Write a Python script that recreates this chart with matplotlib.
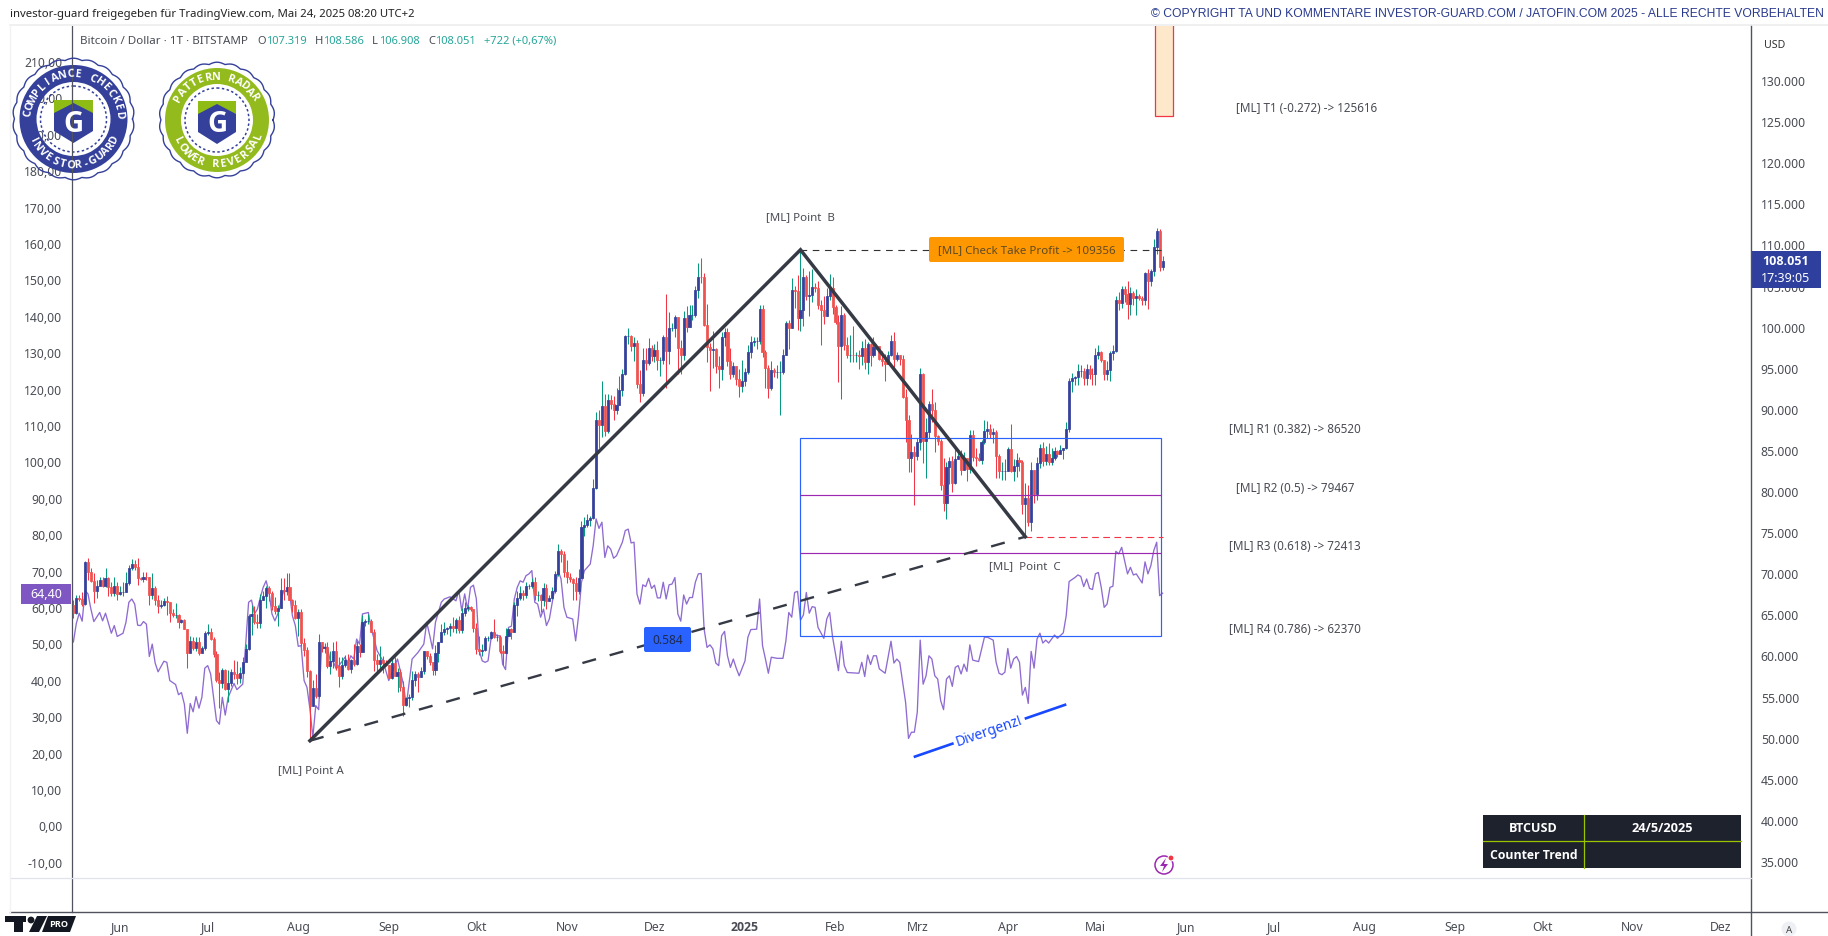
import numpy as np
import pandas as pd
import matplotlib
matplotlib.use("Agg")
import matplotlib.pyplot as plt
from matplotlib.patches import Rectangle, Circle, Wedge, Polygon, FancyBboxPatch

plt.rcParams['font.family'] = ['Noto Sans', 'DejaVu Sans']

# ---------- data (thousand USD, daily, from 2024-05-16) ----------
start_date = "2024-05-16"
first_open = 66.2
month_days = [16, 30, 31, 31, 30, 31, 30, 31, 31, 28, 31, 30, 24]
closes = [
 [65.2,67.0,66.9,66.3,71.4,70.1,69.1,67.9,68.5,69.2,68.5,69.4,68.3,67.6,68.4,67.5],
 [67.7,67.7,68.8,70.6,71.1,70.8,69.4,69.3,69.6,69.5,67.3,68.2,66.8,66.0,66.2,66.6,66.5,65.2,64.9,64.9,64.1,64.3,63.2,60.3,61.8,60.9,61.6,60.3,60.9,62.7],
 [62.8,62.0,60.2,57.0,56.7,58.2,55.9,56.7,58.0,57.7,57.3,57.9,59.2,60.8,64.8,65.1,64.1,63.9,66.7,67.2,68.2,67.6,66.0,65.4,65.8,68.0,67.9,68.3,66.8,66.2,64.6],
 [65.3,61.5,60.7,58.1,53.9,56.0,55.1,61.7,60.9,61.0,58.7,59.3,60.6,58.7,57.5,58.9,59.5,58.4,59.5,59.0,61.2,60.4,64.1,64.2,64.2,62.8,59.4,59.0,59.4,59.1,58.9],
 [57.3,59.1,57.5,58.0,56.2,54.0,54.8,54.9,57.0,57.7,57.4,58.1,60.5,60.0,59.2,58.2,60.3,61.7,62.9,63.2,63.4,63.6,63.3,64.3,63.1,65.2,65.8,65.9,65.6,63.3],
 [60.8,60.6,60.7,62.1,62.1,62.8,62.2,62.2,60.6,60.3,62.4,63.2,62.9,66.1,67.0,67.6,67.4,68.4,68.4,69.0,67.4,67.4,66.7,68.2,66.6,67.0,67.9,69.9,72.7,72.3,70.2],
 [69.5,69.3,68.8,67.8,69.4,75.6,75.9,76.5,76.7,80.4,88.7,88.0,90.4,87.3,91.1,90.6,89.9,90.5,92.3,94.3,98.9,98.9,97.7,98.0,93.0,91.9,95.9,95.6,97.4,96.4],
 [97.2,95.9,96.0,98.8,97.0,99.9,99.9,101.2,97.4,96.6,101.1,100.0,101.4,101.4,104.5,106.1,106.0,100.2,97.5,97.2,97.3,95.2,94.9,98.7,99.4,95.8,94.2,95.2,93.6,92.8,93.4],
 [94.5,96.9,98.1,98.2,98.3,102.1,96.9,95.0,92.5,94.7,94.5,94.5,94.5,96.5,100.5,99.9,104.5,104.4,101.1,102.0,106.1,103.7,103.9,104.8,104.7,102.6,102.0,101.3,103.7,104.7,102.4],
 [100.6,97.6,101.4,97.8,96.6,96.6,96.5,96.5,96.4,97.4,95.7,97.9,96.6,97.5,97.6,96.1,95.8,95.5,96.6,98.3,96.1,96.5,96.1,91.5,88.7,84.0,84.7,84.3],
 [86.0,94.2,86.1,87.2,90.6,89.9,86.7,86.1,80.7,78.5,82.9,83.7,81.0,83.9,84.3,82.6,84.0,82.7,86.8,84.2,84.0,83.8,86.0,87.3,87.5,86.9,87.2,84.3,82.4,82.4,82.5],
 [85.1,82.5,83.1,83.8,83.5,78.4,79.2,76.3,82.6,79.6,83.4,85.3,83.7,84.5,83.6,84.0,84.9,84.5,85.0,85.2,87.5,93.4,93.7,93.9,94.6,94.6,93.8,94.9,94.3,94.2],
 [96.5,96.9,95.9,94.3,94.7,96.8,97.0,103.2,102.9,104.6,104.0,102.8,104.1,103.5,103.7,103.5,103.2,106.5,105.6,106.8,109.7,111.7,107.3,108.05],
]
highs = [
 [66.7,67.4,67.4,67.7,71.5,71.9,70.6,70.0,69.2,69.5,69.5,70.6,69.5,68.9,69.5,69.0],
 [68.4,69.0,70.2,71.0,71.7,71.6,71.9,69.5,70.1,70.1,69.5,70.0,68.4,67.3,66.8,67.0,67.2,66.0,65.7,66.4,65.0,64.5,64.5,62.4,62.4,62.3,62.3,62.2,61.2,63.0],
 [63.8,63.3,62.3,60.5,58.0,58.5,58.3,58.2,58.3,59.4,59.3,58.6,59.8,61.4,65.0,66.1,66.0,65.1,67.5,67.8,68.4,68.4,67.8,67.1,66.1,69.4,69.4,70.0,70.0,66.9,66.8],
 [65.6,65.6,62.1,61.0,58.2,57.0,57.8,62.6,61.7,61.5,61.7,60.5,61.6,61.8,59.8,59.8,60.0,60.2,59.6,61.4,61.8,61.4,64.9,64.5,65.0,64.5,63.2,60.2,61.1,59.9,59.4],
 [58.8,59.7,59.8,58.5,58.3,56.9,54.9,55.3,58.1,58.1,58.0,58.6,60.6,60.6,60.3,59.2,61.3,61.7,63.8,64.1,63.5,64.0,64.7,64.6,64.8,65.8,66.5,66.2,66.0,65.6],
 [64.0,62.4,61.4,62.4,62.4,63.0,64.5,62.6,62.5,61.3,63.4,63.4,63.3,66.5,67.9,68.4,68.0,68.9,68.7,69.4,69.5,67.9,67.5,68.8,68.7,67.4,68.3,70.3,73.6,72.9,72.7],
 [71.6,70.0,69.4,69.5,70.5,76.4,76.8,77.2,77.0,81.5,89.6,89.9,93.4,91.8,91.8,91.7,91.6,92.6,94.0,94.9,99.0,99.8,99.0,98.7,98.4,94.7,97.4,97.4,98.6,97.8],
 [97.9,98.2,96.3,99.0,104.0,101.8,100.4,101.4,101.1,98.4,101.9,102.5,102.6,102.6,105.0,107.8,108.3,106.5,102.8,98.0,99.5,97.4,96.4,99.4,99.8,99.9,97.4,95.7,95.2,94.8,96.0],
 [95.0,97.8,98.9,98.7,98.8,102.7,102.7,97.2,95.3,95.8,95.0,95.4,95.8,97.3,100.7,100.8,105.9,105.0,106.3,109.3,107.2,106.3,106.8,107.0,105.3,105.5,103.2,103.7,104.7,106.4,106.0],
 [102.7,101.4,102.5,101.7,98.8,99.0,100.1,96.9,97.2,98.3,98.5,98.1,98.0,98.8,97.9,97.7,97.0,96.7,97.0,99.0,99.4,96.9,96.6,96.5,92.4,89.3,87.0,85.5],
 [86.5,95.0,94.4,88.9,91.0,92.4,90.9,86.8,86.3,84.0,83.5,84.2,84.3,85.3,84.7,85.0,84.7,84.0,87.4,87.4,85.2,84.6,86.2,88.7,88.5,88.2,87.7,87.4,84.5,83.5,83.9],
 [85.4,88.2,83.9,84.6,84.2,83.8,81.0,80.7,83.5,82.6,84.2,85.7,86.0,85.5,85.8,85.3,85.4,85.0,85.6,85.3,88.4,93.7,94.4,94.0,95.5,95.3,95.0,95.5,95.4,95.0],
 [97.4,97.8,97.0,96.0,95.8,97.0,97.8,103.7,104.2,104.9,104.9,105.5,104.8,104.3,104.6,104.0,103.7,106.7,107.0,107.0,110.7,112.0,111.9,108.6],
]
lows = [
 [64.6,65.1,66.6,66.0,66.1,69.2,68.9,66.4,67.0,68.8,68.3,68.3,67.2,67.2,67.2,66.7],
 [67.4,67.2,67.7,68.6,70.4,70.4,68.6,69.2,69.0,69.2,66.2,66.9,66.2,65.2,65.8,66.0,64.9,64.1,64.7,64.6,63.4,63.9,63.2,58.5,60.4,60.7,60.6,60.0,60.4,60.7],
 [62.5,61.9,59.8,56.8,53.6,56.0,55.8,54.4,56.3,57.2,56.5,56.6,57.8,59.5,60.7,62.5,63.8,63.3,63.4,66.8,65.8,66.6,65.5,65.1,63.6,65.8,66.8,67.3,66.7,65.3,64.4],
 [62.4,61.2,59.9,57.4,49.6,53.9,54.8,54.8,60.4,60.3,58.5,57.7,58.5,58.2,56.2,57.1,58.6,58.2,57.9,58.7,58.9,59.8,60.4,63.6,63.8,62.8,58.1,57.9,58.1,57.9,58.7],
 [57.3,57.1,57.5,55.6,55.7,52.7,53.8,53.7,54.6,56.3,55.6,57.4,57.7,59.6,58.8,57.6,57.6,59.2,61.6,62.5,62.6,62.4,62.8,62.7,62.7,62.7,64.8,65.4,65.4,62.9],
 [60.2,60.1,59.9,60.5,61.8,62.0,62.1,61.8,60.3,58.9,60.4,62.4,62.0,62.9,64.8,66.8,66.7,67.0,68.1,68.2,66.8,66.6,65.3,66.0,65.6,66.8,66.9,67.6,69.7,71.4,69.5],
 [68.8,69.0,66.8,66.8,67.5,69.4,74.5,75.6,75.7,76.6,80.2,85.2,86.6,86.7,87.1,90.0,88.7,89.4,90.9,91.6,94.1,97.9,97.1,95.8,92.6,90.8,91.6,94.7,95.3,95.8],
 [95.7,94.7,94.0,95.5,92.5,95.5,99.5,98.8,94.2,94.3,95.9,99.3,100.0,100.8,101.2,103.5,105.3,100.1,95.7,92.2,95.0,94.4,92.6,93.5,97.6,95.2,93.6,93.9,92.9,91.4,92.0],
 [92.8,94.2,96.2,97.7,97.3,97.9,96.3,92.5,91.3,92.3,93.9,93.7,89.3,94.3,96.5,97.3,99.9,102.3,99.6,99.5,100.1,103.2,101.3,103.0,104.2,102.2,97.8,100.3,101.3,103.3,101.5],
 [100.3,93.3,91.2,97.2,96.2,95.7,95.7,95.7,94.8,95.3,94.9,94.2,95.2,96.3,97.3,95.9,95.2,93.4,95.5,96.4,94.9,95.8,95.3,91.3,86.0,82.3,82.3,78.3],
 [83.8,85.0,83.4,81.6,86.4,88.4,84.8,85.6,80.1,77.6,76.6,80.9,79.9,80.9,83.9,81.9,82.6,81.2,82.2,83.7,83.0,83.7,83.3,85.7,86.4,86.4,85.9,81.6,81.6,81.4,81.4],
 [82.4,82.3,81.2,81.7,82.4,77.2,74.5,75.8,75.2,78.5,78.9,82.8,83.1,83.2,83.2,83.2,83.8,84.2,84.6,83.9,85.1,87.2,92.0,92.9,92.9,93.9,92.9,92.9,93.6,92.9],
 [92.9,96.1,95.7,93.5,93.5,93.4,95.9,96.9,102.0,102.3,103.0,100.9,101.4,102.6,101.4,103.2,102.6,102.7,102.1,105.0,106.2,108.8,106.8,106.9],
]
# oscillator: (candle index, value on left axis)
osc_points = [(0,50.4),(1,55.5),(2,58.3),(3,56.1),(4,64.5),(5,63.6),(6,59.4),(7,56.0),(9,58.5),(10,56.2),(11,58.3),(13,52.8),(14,54.9),(15,51.9),(17,52.8),(18,55.8),(19,61.3),(20,62.2),(21,60.8),(22,55.0),(23,54.9),(24,56.0),(25,55.3),(26,46.4),(27,49.8),(28,44.6),(29,42.2),(31,45.1),(32,44.8),(33,39.8),(35,38.7),(36,35.9),(37,36.5),(38,33.3),(39,25.3),(40,33.5),(41,31.2),(42,35.4),(43,32.2),(44,35.2),(45,43.2),(46,43.9),(47,41.6),(49,28.8),(50,27.8),(51,35.2),(52,30.3),(53,35.2),(55,39.0),(56,37.3),(58,38.8),(59,49.8),(60,61.3),(61,61.9),(62,58.1),(63,59.4),(64,62.6),(65,65.4),(66,67.2),(67,64.0),(68,58.1),(69,56.2),(70,58.1),(72,64.5),(74,64.0),(75,57.6),(76,54.9),(77,49.2),(78,49.4),(79,39.8),(80,37.9),(81,32.0),(82,24.2),(83,32.9),(84,31.8),(85,49.4),(86,48.9),(87,48.9),(88,45),(89,45),(90,43),(91,44),(92,45),(93,46.2),(94,44.3),(95,46.6),(96,45.7),(97,51.2),(98,49.8),(99,58.1),(100,58.3),(101,58.5),(102,53.9),(103,51.2),(104,48),(106,45.2),(107,42.5),(108,39.8),(111,45.7),(113,38.8),(114,32.9),(115,39.3),(116,45.7),(118,47.5),(120,49.8),(121,55.8),(122,52.3),(123,48.5),(124,55.8),(126,61.3),
 (127,62.2),(129,62.8),(131,61.7),(132,64.5),(133,59.0),(134,63.6),(135,59.4),(136,65.4),(137,66.0),(138,62.2),(139,48.0),(140,45.2),(141,44.8),(142,45.2),(143,51.2),(144,53.0),(145,52.1),(146,52.1),(147,44.3),(148,42.8),(149,54.4),(150,54.7),(151,62.2),(152,65.4),(153,67.2),(154,66.8),(155,68.6),(156,69.1),(157,70.0),(158,61.3),(159,60.8),(160,57.2),(161,59.4),(162,54.9),(163,56.7),(164,61.3),(166,70),(167,67.7),(168,59.9),(169,57.2),(171,56.7),(172,50.7),(173,57.6),(174,66.8),(175,70.0),(177,71.8),(178,76.8),(179,84.2),(180,81.6),(181,83.3),(182,73.6),(183,76.8),(184,75.9),(185,73.4),(186,74.1),(188,77.8),(189,81.0),(190,81.4),(191,77.6),(192,77.8),(193,63.6),(194,60.8),(195,66.1),(196,65.6),(197,67.9),(198,65.1),(199,66.0),(200,62.5),(201,62.5),(202,66.8),(203,62.2),(204,66.1),(205,66.3),(206,68.1),(207,58.1),(208,56.1),(209,63.3),(210,60.8),(211,62.6),(212,62.6),(213,66.8),(214,69.1),(215,69.2),(216,53.9),(217,48.9),(218,49.6),(219,48.5),(220,44.6),(221,43.9),(222,52.1),(223,53.3),(224,46.6),(225,43.4),(226,45.7),(227,43.2),(228,41.1),(230,45.2),(231,51.7),(232,53.8),(234,53.9),(235,62.2),(236,49.4),(237,45.7),(238,41.8),(239,46.2),(241,45.9),(243,45.9),(244,50.7),(245,58.5),(246,57.2),(247,64.0),(248,64.3),(249,56.4),(250,57.8),(251,64.0),(252,58.3),(253,60.1),(254,59.9),(255,54.4),(257,51.4),(258,56.7),(259,58.5),(260,51.7),(262,42.5),(263,50.6),(264,43.9),(265,42.0),(269,41.8),(270,44.8),(271,40.9),(272,46.8),(273,44.2),(274,46.6),(275,46.6),(276,43.0),(278,41.8),(280,50.6),(281,44.6),(282,45.7),(283,44.8),(285,33.8),(286,23.9),(287,25.6),(288,25.6),(289,31.1),(290,50.9),(291,38.8),(292,41.1),(293,46.6),(294,45.7),(295,41.1),(296,40.2),(297,34.3),(298,31.8),(299,40.2),(300,41.1),(301,38.2),(302,43.4),(303,43.9),(304,41.6),(305,44.3),(306,42.3),(307,49.6),(308,45.4),(310,45.0),(312,51.7),(313,51.7),(315,50.9),(316,44.8),(317,41.8),(318,41.4),(319,42.1),(320,48.6),(321,43.2),(322,45.7),(323,46.4),(324,44.8),(325,35.8),(326,37.9),(327,33.5),(328,47.8),(329,43.2),(330,51.2),(331,52.8),(332,50.1),(333,50.9),(334,50.1),(336,52.3),(337,51.4),(339,52.9),(340,57.6),(341,67.0),(343,68.1),(344,68.8),(345,68.4),(346,65.6),(347,67.7),(348,65.1),(349,64.8),(350,69.1),(351,69.5),(352,65.4),(353,59.9),(354,60.8),(355,65.4),(356,65.7),(357,75.3),(358,74.6),(359,76.4),(361,69.1),(362,70.9),(363,68.8),(364,69.1),(366,66.6),(367,72.4),(368,69.1),(369,71.4),(370,75.5),(371,77.8),(372,63.1),(373,63.8)]

point_a = ("2024-08-05", 49.63)
point_b = ("2025-01-20", 109.356)
point_c = ("2025-04-07", 74.45)
fib_levels = {"R1": 86.520, "R2": 79.467, "R3": 72.413, "R4": 62.370}
t1_level = 125.616
months = ["Jun","Jul","Aug","Sep","Okt","Nov","Dez","2025","Feb","Mrz","Apr","Mai","Jun","Jul","Aug","Sep","Okt","Nov","Dez"]
month_starts = pd.date_range("2024-06-01", "2025-12-01", freq="MS")
price_ticks = list(range(35, 135, 5))
osc_ticks = list(range(-10, 220, 10))

for m, (n, c, h, l) in enumerate(zip(month_days, closes, highs, lows)):
    assert len(c) == n, ("close", m, len(c))
    assert len(h) == n, ("high", m, len(h))
    assert len(l) == n, ("low", m, len(l))

close = np.array(sum(closes, []))
high = np.array(sum(highs, []))
low = np.array(sum(lows, []))
open_ = np.r_[first_open, close[:-1]]
open_[-1] = 107.319
idx = np.arange(len(close))
t0 = pd.Timestamp(start_date)
def day(s):
    return (pd.Timestamp(s) - t0).days

# ---------- layout ----------
W, H = 1828, 937
fig = plt.figure(figsize=(W/100, H/100), dpi=100, facecolor="white")
L, R, T_, B = 72, 1751, 27, 879
rect = [L/W, 1-B/H, (R-L)/W, (B-T_)/H]
ax_osc = fig.add_axes(rect, zorder=1)
ax = fig.add_axes(rect, zorder=2)
ax.patch.set_alpha(0)
xl = (230 + (L-745)/2.92, 230 + (R-745)/2.92)
price_of = lambda y: 35 + (862-y)/41.1*5
osc_of = lambda y: 210 - (y-62)/3.64
for a in (ax, ax_osc):
    a.set_xlim(*xl)
    for s in a.spines.values():
        s.set_visible(False)
ax.set_ylim(price_of(B), price_of(T_))
ax_osc.set_ylim(osc_of(B), osc_of(T_))

TXT = "#4a4c55"
ax.yaxis.tick_right()
ax.set_yticks(price_ticks)
ax.set_yticklabels([f"{p}.000" for p in price_ticks], fontsize=8.8, color=TXT)
ax.tick_params(axis="y", length=0, pad=7)
ax_osc.set_yticks(osc_ticks)
ax_osc.set_yticklabels([f"{v:.2f}".replace(".", ",") for v in osc_ticks], fontsize=8.8, color=TXT)
ax_osc.tick_params(axis="y", length=0, pad=7)
ax_osc.set_xticks([])
ax.set_xticks([(d - t0).days for d in month_starts])
ax.set_xticklabels(months, fontsize=8.8, color=TXT)
for lab, m in zip(ax.get_xticklabels(), months):
    if m == "2025":
        lab.set_fontweight("bold")
        lab.set_family("Open Sans")
ax.tick_params(axis="x", length=0, pad=30)

# ---------- series ----------
UP, DOWN, UPW, DOWNW = "#35409a", "#ef5350", "#089981", "#f23645"
up = close >= open_
ax.vlines(idx, low, high, colors=np.where(up, UPW, DOWNW), linewidth=0.75, zorder=2)
body_col = np.where(up, UP, DOWN)
ax.bar(idx, np.abs(close-open_), bottom=np.minimum(close, open_), width=0.72,
       color=body_col, edgecolor=body_col, linewidth=0.55, zorder=3)
ax_osc.plot([p[0] for p in osc_points], [p[1] for p in osc_points], color="#8e6bd1", lw=0.95, zorder=3)

# ---------- drawings ----------
ia, ib, ic = day(point_a[0]), day(point_b[0]), day(point_c[0])
pa, pb, pc = point_a[1], point_b[1], point_c[1]
right_i = 372.5
ax.add_patch(Rectangle((ib, fib_levels["R4"]), right_i-ib, fib_levels["R1"]-fib_levels["R4"],
                       fill=False, ec="#2962ff", lw=0.85, zorder=4))
ax.hlines([fib_levels["R2"], fib_levels["R3"]], ib, right_i, colors="#9c27b0", lw=0.85, zorder=4)
ax.plot([ib, 373], [pb, pb], color="#333333", lw=0.8, ls=(0, (6, 5)), zorder=4)
ax.plot([ic, 373], [pc, pc], color="#f23645", lw=0.8, ls=(0, (6, 4)), zorder=4)
ax.plot([ia, ic], [pa, pc], color="#363a45", lw=1.7, ls=(0, (6, 6)), zorder=5)
ax.plot([ia, ib, ic], [pa, pb, pc], color="#363a45", lw=2.5, zorder=6, solid_joinstyle="miter")
ax.add_patch(Rectangle((370.5, t1_level), 6, 20, fc="#fde8cc", ec="#f23645", lw=0.9, zorder=4))
ax.plot([288.2, 339.6], [47.7, 54.0], color="#1848ff", lw=1.9, zorder=4)

# ---------- pixel overlay: annotations, axes frame, labels, badges ----------
ov = fig.add_axes([0, 0, 1, 1], zorder=5)
ov.set_xlim(0, W); ov.set_ylim(H, 0); ov.axis("off"); ov.patch.set_alpha(0)

def T(x, y, s, size=8.1, color=TXT, ha="left", va="center", **kw):
    return ov.text(x, y, s, fontsize=size, color=color, ha=ha, va=va, **kw)

LINE = "#50535e"
ov.plot([72, 72], [27, 913], color=LINE, lw=0.9)
ov.plot([R, R], [26, 937], color=LINE, lw=1.0)
ov.plot([10, W], [913, 913], color=LINE, lw=1.0)
ov.plot([10, R], [879, 879], color="#e0e3eb", lw=0.9)
ov.plot([10, W], [26, 26], color="#eeeeee", lw=1.2)
ov.plot([10, 10], [26, 913], color="#f2f2f2", lw=1.0)

T(10, 15, "investor-guard freigegeben für TradingView.com, Mai 24, 2025 08:20 UTC+2", size=8.15, color="#222222")
T(1824, 14, "© COPYRIGHT TA UND KOMMENTARE INVESTOR-GUARD.COM / JATOFIN.COM 2025 - ALLE RECHTE VORBEHALTEN",
  size=8.7, color="#2a3a8e", ha="right", family="Liberation Sans")
T(80, 41, "Bitcoin / Dollar · 1T · BITSTAMP", size=8.35)
TEAL = "#26a69a"
for x, s, c in [(257.5,"O",TXT),(266,"107.319",TEAL),(315,"H",TXT),(323,"108.586",TEAL),(372,"L",TXT),(379,"106.908",TEAL),
                (428,"C",TXT),(435.5,"108.051",TEAL),(484,"+722 (+0,67%)",TEAL)]:
    T(x, 41, s, size=8.0, color=c)
T(1775, 45, "USD", size=7.6, color="#333333", ha="center")

for x, y, s, ha, sz in [(1236,108.5,"[ML] T1 (-0.272) -> 125616","left",8.45),(1229,430,"[ML] R1 (0.382) -> 86520","left",8.45),
                    (1236,489,"[ML] R2 (0.5) -> 79467","left",8.45),(1229,547,"[ML] R3 (0.618) -> 72413","left",8.45),
                    (1229,630,"[ML] R4 (0.786) -> 62370","left",8.45),(800,218,"[ML] Point  B","center",8.3),
                    (311,771,"[ML] Point A","center",8.3),(1025,566.5,"[ML]  Point  C","center",8.3)]:
    T(x, y, s, size=sz, ha=ha)

ov.add_patch(FancyBboxPatch((931, 240), 191, 21, boxstyle="round,pad=2,rounding_size=2", fc="#ff9800", ec="none"))
T(1026.5, 250.5, "[ML] Check Take Profit -> 109356", size=8.3, color="#5d4a26", ha="center")
ov.add_patch(FancyBboxPatch((646, 630), 43, 21, boxstyle="round,pad=2,rounding_size=2", fc="#2962ff", ec="none"))
T(667.5, 640.5, "0.584", size=8.6, color="#1d2a50", ha="center")
T(989, 731.5, "Divergenz!", size=10, color="#1848ff", ha="center", rotation=19, rotation_mode="anchor",
  bbox=dict(fc="white", ec="none", pad=2))

# price tags
ov.add_patch(Rectangle((1752, 252), 69, 37, fc="#2f3f9e", ec="none"))
T(1786, 262, "108.051", size=9, color="white", ha="center", fontweight="bold", family="Open Sans")
T(1786, 279, "17:39:05", size=9, color="white", ha="center")
ov.add_patch(Rectangle((21, 585), 50, 20, fc="#7e57c2", ec="none"))
T(46, 595, "64,40", size=9, color="white", ha="center")

# info table
tb_l, tb_m, tb_r, tb_t, tb_c, tb_b = 1483, 1584, 1741, 816, 842, 869
ov.add_patch(Rectangle((tb_l, tb_t), tb_r-tb_l, tb_b-tb_t, fc="#1e222d", ec="none"))
ov.plot([tb_l, tb_r], [tb_c, tb_c], color="#9bc400", lw=0.9)
ov.plot([tb_m, tb_m], [tb_t, tb_b], color="#9bc400", lw=0.9)
T((tb_l+tb_m)/2, 828.5, "BTCUSD", size=9, color="white", ha="center", fontweight="bold", family="Open Sans")
T((tb_m+tb_r)/2, 828.5, "24/5/2025", size=9.2, color="white", ha="center", fontweight="bold", family="Open Sans")
T((tb_l+tb_m)/2, 855.5, "Counter Trend", size=8.8, color="white", ha="center", fontweight="bold", family="Open Sans")

# small icons
ov.add_patch(Circle((1164, 866), 9, fc="white", ec="#9c27b0", lw=1.1))
ov.add_patch(Polygon([(1166,859),(1160,867),(1164,867),(1162,873),(1168,865),(1164,865)], fc="#9c27b0", ec="none"))
ov.add_patch(Circle((1171, 859), 3, fc="#f23645", ec="white", lw=0.8))
ov.add_patch(Circle((1789, 930), 7.5, fc="#eef0f3", ec="none"))
T(1789, 930.5, "A", size=7, color="#444444", ha="center")

# TradingView mark
ov.add_patch(Rectangle((5, 917), 21, 6, fc="#131722", ec="none"))
ov.add_patch(Rectangle((14, 923), 9, 10, fc="#131722", ec="none"))
ov.add_patch(Circle((31, 921), 3.4, fc="#131722", ec="none"))
ov.add_patch(Polygon([(37,917),(47,917),(39,933),(29,933)], fc="#131722", ec="none"))
ov.add_patch(Polygon([(48,917),(76,917),(70,933),(42,933)], fc="#131722", ec="none"))
T(59, 925, "PRO", size=6.6, color="white", ha="center", fontweight="bold", family="Open Sans")

# badges
def arc_text(cx, cy, r, s, a0, a1, top, size, color="white"):
    angs = np.linspace(a0, a1, len(s))
    for ch, a in zip(s, angs):
        ra = np.deg2rad(a)
        x, y = cx + r*np.cos(ra), cy - r*np.sin(ra)
        rot = a-90 if top else a+90
        ov.text(x, y, ch, fontsize=size, color=color, ha="center", va="center", rotation=rot,
                rotation_mode="anchor", fontweight="bold", family="Open Sans")

def badge(cx, cy, ro, ring, top_s, top_a, bot_s, bot_a, r_out, r_in, r_dash, sw):
    th = np.linspace(0, 2*np.pi, 900)
    rr = ro + 1.8*np.abs(np.sin(11*th))
    ov.plot(cx + rr*np.cos(th), cy + rr*np.sin(th), color="#34409a", lw=1.0)
    ov.add_patch(Wedge((cx, cy), r_out, 0, 360, width=r_out-r_in, fc=ring, ec="none"))
    ov.add_patch(Circle((cx, cy), r_dash, fill=False, ec="#34409a", lw=1.1, ls=(0, (1.6, 1.6))))
    arc_text(cx, cy, (r_out+r_in)/2, top_s, top_a[0], top_a[1], True, 7.8)
    arc_text(cx, cy, (r_out+r_in)/2, bot_s, bot_a[0], bot_a[1], False, 7.8)
    top, bot = cy-19, cy+24
    ov.add_patch(Polygon([(cx-sw,top),(cx+sw,top),(cx+sw,cy+12),(cx,bot),(cx-sw,cy+12)], fc="#34409a", ec="none"))
    ov.add_patch(Polygon([(cx-sw,top),(cx+sw,top),(cx+sw,cy-6),(cx,cy-16),(cx-sw,cy-6)], fc="#8fbc14", ec="none"))
    ov.text(cx, cy+4, "G", fontsize=20, color="white", ha="center", va="center", fontweight="bold", family="Open Sans")

badge(73.5, 120, 59, "#34409a", "COMPLIANCE CHECKED", (172, 6), "INVESTOR-GUARD", (207, 335), 54, 37, 33, 19.5)
badge(217, 121, 56, "#94bb1e", "PATTERN RADAR", (150, 32), "LOWER REVERSAL", (207, 340), 52, 36, 32, 19)

fig.savefig("out.png", dpi=100, facecolor="white")
